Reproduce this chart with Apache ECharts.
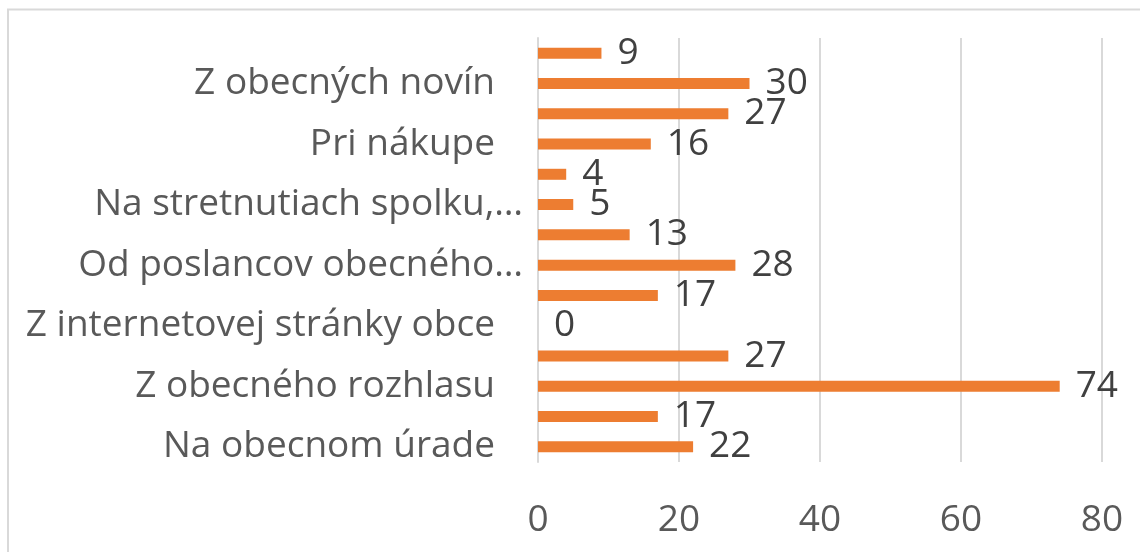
<!DOCTYPE html>
<html>
<head>
<meta charset="utf-8">
<script src="https://cdn.jsdelivr.net/npm/echarts@6/dist/echarts.min.js"></script>
<style>
  html, body { margin: 0; padding: 0; background: #fff; }
  #chart { width: 1140px; height: 552px; }
</style>
</head>
<body>
<div id="chart"></div>
<script>
// categories from bottom to top; only every other one has a visible label
var categories = [
    'Na obecnom úrade', 'kategória 2',
    'Z obecného rozhlasu', 'kategória 4',
    'Z internetovej stránky obce', 'kategória 6',
    'Od poslancov obecného…', 'kategória 8',
    'Na stretnutiach spolku,…', 'kategória 10',
    'Pri nákupe', 'kategória 12',
    'Z obecných novín', 'kategória 14'
];
var values = [22, 17, 74, 27, 0, 17, 28, 13, 5, 4, 16, 27, 30, 9];
var ticks = [0, 20, 40, 60, 80];

var font = 'Open Sans';
var size = 37;
var chart = echarts.init(document.getElementById('chart'));
var option = {
    animation: false,
    grid: { left: 538, right: 38, top: 38, bottom: 90 },
    graphic: [{
        type: 'rect',
        shape: { x: 8, y: 9.5, width: 1200, height: 600 },
        style: { fill: 'none', stroke: '#d9d9d9', lineWidth: 2 }
    }],
    xAxis: {
        type: 'value',
        min: ticks[0],
        max: ticks[ticks.length - 1],
        interval: 20,
        axisLine: { show: false },
        axisTick: { show: false },
        splitLine: { lineStyle: { color: '#d9d9d9', width: 2 } },
        axisLabel: { color: '#595959', fontSize: size, fontFamily: font, margin: 40 }
    },
    yAxis: {
        type: 'category',
        data: categories,
        axisLine: { lineStyle: { color: '#d9d9d9', width: 2 } },
        axisTick: { show: false },
        axisLabel: {
            interval: 1,
            margin: 15,
            formatter: function (v) {
                return v.slice(-1) === '…' ? '{e|' + v + '}' : '{n|' + v + '}';
            },
            rich: {
                e: { color: '#595959', fontSize: size, fontFamily: font },
                n: { color: '#595959', fontSize: size, fontFamily: font, padding: [0, 28, 0, 0] }
            }
        }
    },
    series: [{
        type: 'bar',
        data: values,
        barWidth: 11,
        itemStyle: { color: '#ed7d31' },
        label: {
            show: true,
            position: 'right',
            distance: 16,
            color: '#404040',
            fontSize: size,
            fontFamily: font
        }
    }]
};
chart.setOption(option);
</script>
</body>
</html>
